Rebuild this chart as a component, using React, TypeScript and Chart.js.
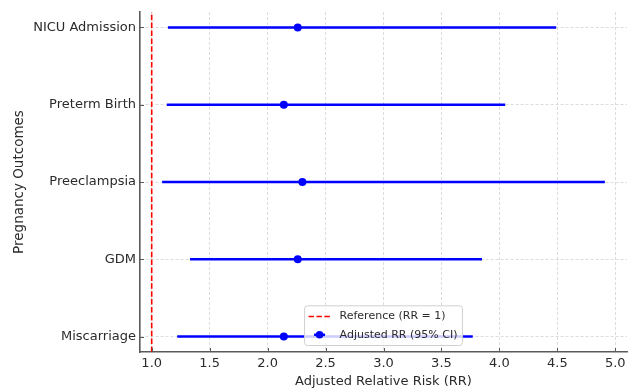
import { useEffect, useRef } from "react";
import { Chart, registerables } from "chart.js";

Chart.register(...registerables);

// ---- data ----
const CATEGORIES = ["Miscarriage", "GDM", "Preeclampsia", "Preterm Birth", "NICU Admission"];
const RR = [2.14, 2.26, 2.3, 2.14, 2.26];
const CI_LOWER = [1.22, 1.33, 1.09, 1.13, 1.14];
const CI_UPPER = [3.77, 3.85, 4.91, 4.05, 4.49];
const X_TICKS = [1.0, 1.5, 2.0, 2.5, 3.0, 3.5, 4.0, 4.5, 5.0];
const REF_RR = 1;
const X_LIMITS = [0.899, 5.101];
const Y_LIMITS = [-0.2, 4.2];
const X_TITLE = "Adjusted Relative Risk (RR)";
const Y_TITLE = "Pregnancy Outcomes";
const REF_LABEL = "Reference (RR = 1)";
const RR_LABEL = "Adjusted RR (95% CI)";

const FONT = "'DejaVu Sans', 'Liberation Sans', sans-serif";
const TEXT = "#2b2b2b";
const SPINE = "#5a5a5a";
const BLUE = "#0000ff";
const RED = "#ff0000";

const tickMarksPlugin = {
  id: "inwardTicks",
  afterDatasetsDraw(chart: any) {
    const { ctx, chartArea, scales } = chart;
    ctx.save();
    ctx.strokeStyle = SPINE;
    ctx.lineWidth = 1;
    ctx.beginPath();
    for (const t of scales.x.ticks) {
      const px = Math.round(scales.x.getPixelForValue(t.value)) + 0.5;
      ctx.moveTo(px, chartArea.bottom);
      ctx.lineTo(px, chartArea.bottom - 4);
    }
    for (const t of scales.y.ticks) {
      const py = Math.round(scales.y.getPixelForValue(t.value)) + 0.5;
      ctx.moveTo(chartArea.left, py);
      ctx.lineTo(chartArea.left + 4, py);
    }
    ctx.stroke();
    ctx.restore();
  },
};

const legendPlugin = {
  id: "innerLegend",
  afterDraw(chart: any) {
    const { ctx, chartArea } = chart;
    const ds = chart.data.datasets;
    const refDs = ds.find((d: any) => d.label === REF_LABEL);
    const rrDs = ds.find((d: any) => d.label === RR_LABEL);
    const entries = [refDs, rrDs];
    ctx.save();
    ctx.font = `11px ${FONT}`;
    const maxW = Math.max(...entries.map((e: any) => ctx.measureText(e.label).width));
    const textOffset = 35;
    const w = textOffset + maxW + 5;
    const rowH = 18.3;
    const padV = 10.7;
    const h = padV * 2 + rowH * (entries.length - 1);
    const left = (chartArea.left + chartArea.right) / 2 - w / 2;
    const bottom = chartArea.bottom - 6.5;
    const top = bottom - h;
    ctx.beginPath();
    const r = 3;
    ctx.moveTo(left + r, top);
    ctx.lineTo(left + w - r, top);
    ctx.quadraticCurveTo(left + w, top, left + w, top + r);
    ctx.lineTo(left + w, bottom - r);
    ctx.quadraticCurveTo(left + w, bottom, left + w - r, bottom);
    ctx.lineTo(left + r, bottom);
    ctx.quadraticCurveTo(left, bottom, left, bottom - r);
    ctx.lineTo(left, top + r);
    ctx.quadraticCurveTo(left, top, left + r, top);
    ctx.closePath();
    ctx.fillStyle = "rgba(255,255,255,0.8)";
    ctx.fill();
    ctx.strokeStyle = "#d0d0d0";
    ctx.lineWidth = 1;
    ctx.stroke();

    let y = top + padV;
    ctx.beginPath();
    ctx.strokeStyle = refDs.borderColor;
    ctx.lineWidth = 1.5;
    ctx.setLineDash([5.5, 2.4]);
    ctx.moveTo(left + 4, y);
    ctx.lineTo(left + 27, y);
    ctx.stroke();
    ctx.setLineDash([]);
    ctx.fillStyle = TEXT;
    ctx.textBaseline = "middle";
    ctx.textAlign = "left";
    ctx.fillText(refDs.label, left + textOffset, y);

    y += rowH;
    const cx = left + 15;
    ctx.beginPath();
    ctx.strokeStyle = BLUE;
    ctx.lineWidth = 2.5;
    ctx.moveTo(cx - 5.5, y);
    ctx.lineTo(cx + 5.5, y);
    ctx.stroke();
    ctx.beginPath();
    ctx.fillStyle = BLUE;
    ctx.arc(cx, y, 3.8, 0, Math.PI * 2);
    ctx.fill();
    ctx.fillStyle = TEXT;
    ctx.fillText(rrDs.label, left + textOffset, y);
    ctx.restore();
  },
};

export default function App() {
  const canvasRef = useRef<HTMLCanvasElement | null>(null);

  useEffect(() => {
    if (!canvasRef.current) return;
    Chart.defaults.font.family = FONT;

    const points = RR.map((v, i) => ({ x: v, y: i }));
    const ciSegments = CI_LOWER.flatMap((lo, i) => [
      { x: lo, y: i },
      { x: CI_UPPER[i], y: i },
      { x: null, y: null },
    ]);
    const refLine = [
      { x: REF_RR, y: Y_LIMITS[0] },
      { x: REF_RR, y: Y_LIMITS[1] },
    ];

    const chart = new Chart(canvasRef.current, {
      type: "scatter",
      data: {
        datasets: [
          {
            label: RR_LABEL,
            data: points,
            backgroundColor: BLUE,
            borderColor: BLUE,
            pointRadius: 4,
            pointHoverRadius: 4,
            borderWidth: 0,
            order: 0,
          },
          {
            label: "CI",
            data: ciSegments as any,
            showLine: true,
            spanGaps: false,
            borderColor: BLUE,
            borderWidth: 2.5,
            borderCapStyle: "butt",
            pointRadius: 0,
            order: 1,
          },
          {
            label: REF_LABEL,
            data: refLine,
            showLine: true,
            borderColor: RED,
            borderWidth: 1.6,
            borderDash: [5.5, 2.4],
            pointRadius: 0,
            order: 2,
          },
        ],
      },
      options: {
        animation: false,
        responsive: false,
        maintainAspectRatio: false,
        layout: { padding: { top: 12, left: 0, right: 0, bottom: 0 } },
        plugins: {
          legend: { display: false },
          tooltip: { enabled: false },
        },
        scales: {
          x: {
            type: "linear",
            min: X_LIMITS[0],
            max: X_LIMITS[1],
            afterBuildTicks: (axis: any) => {
              axis.ticks = X_TICKS.map((v) => ({ value: v }));
            },
            afterFit: (axis: any) => {
              axis.height = 37;
              axis.paddingLeft = 0;
              axis.paddingRight = 0;
            },
            ticks: {
              padding: 4,
              color: TEXT,
              font: { size: 13 },
              maxRotation: 0,
              autoSkip: false,
              callback: (v: any) => Number(v).toFixed(1),
            },
            grid: {
              color: "#d3d3d3",
              lineWidth: 0.8,
              drawTicks: false,
            },
            border: { display: true, color: SPINE, width: 1.6, dash: [3, 2] },
            title: {
              display: true,
              text: X_TITLE,
              color: TEXT,
              font: { size: 13 },
              padding: { top: 0, bottom: 0 },
            },
          },
          y: {
            type: "linear",
            min: Y_LIMITS[0],
            max: Y_LIMITS[1],
            afterBuildTicks: (axis: any) => {
              axis.ticks = CATEGORIES.map((_, i) => ({ value: i }));
            },
            afterFit: (axis: any) => {
              axis.width = 140;
              axis.paddingTop = 0;
              axis.paddingBottom = 0;
            },
            ticks: {
              padding: 4,
              color: TEXT,
              font: { size: 13 },
              autoSkip: false,
              callback: (v: any) => CATEGORIES[Math.round(Number(v))] ?? "",
            },
            grid: {
              color: "#d3d3d3",
              lineWidth: 0.8,
              drawTicks: false,
            },
            border: { display: true, color: SPINE, width: 1.6, dash: [3, 2] },
            title: {
              display: true,
              text: Y_TITLE,
              color: TEXT,
              font: { size: 13.5 },
              padding: { top: 11, bottom: 0 },
            },
          },
        },
      },
      plugins: [tickMarksPlugin, legendPlugin],
    });

    return () => chart.destroy();
  }, []);

  return (
    <div style={{ position: "fixed", left: 0, top: 0, width: 631, height: 389, background: "#fff" }}>
      <canvas ref={canvasRef} width={631} height={389} style={{ display: "block", width: 631, height: 389 }} />
    </div>
  );
}
